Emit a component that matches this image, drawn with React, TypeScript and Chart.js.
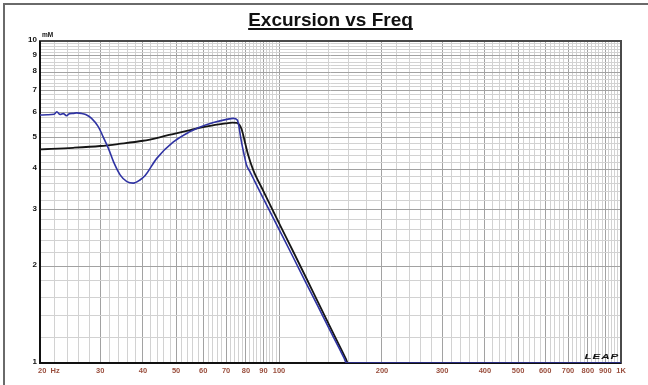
import React, { useEffect, useRef } from "react";
import { Chart, registerables } from "chart.js";

Chart.register(...registerables);

// Cone excursion (mM) against frequency (Hz)
const blueFreq = [20, 21, 22, 22.4, 22.9, 23.4, 23.9, 24.4, 25, 25.6, 26.4, 27.2, 28.3, 29.6, 30.6, 31.7, 32.8, 34.3, 35.9, 37.5, 39.2, 40.6, 43.9, 49, 54.9, 58.1, 64.3, 70.3, 73.5, 75.5, 76.3, 77, 77.8, 79, 80.4, 82.2, 85, 90, 100, 110, 120, 130, 140, 150, 155, 157.6, 1000];
const blueMm = [5.89, 5.9, 5.92, 6.03, 5.91, 5.95, 5.86, 5.95, 5.96, 5.98, 5.96, 5.91, 5.75, 5.42, 5.04, 4.64, 4.22, 3.84, 3.66, 3.62, 3.7, 3.82, 4.32, 4.85, 5.23, 5.38, 5.58, 5.71, 5.75, 5.68, 5.45, 5.12, 4.81, 4.45, 4.11, 3.93, 3.66, 3.24, 2.6, 2.13, 1.77, 1.5, 1.28, 1.11, 1.035, 1.0, 1.0];

const blackFreq = [20, 25, 30, 34, 40, 45, 50, 55, 60, 65, 70, 73, 75.3, 76.5, 77.7, 78.6, 79.6, 81.2, 84, 90, 100, 110, 120, 130, 140, 150, 157, 159, 1000];
const blackMm = [4.61, 4.66, 4.72, 4.79, 4.9, 5.03, 5.17, 5.29, 5.4, 5.49, 5.55, 5.58, 5.57, 5.5, 5.33, 5.1, 4.82, 4.43, 3.98, 3.42, 2.72, 2.22, 1.84, 1.545, 1.316, 1.134, 1.028, 1.0, 1.0];

const xTickValues = [20, 30, 40, 50, 60, 70, 80, 90, 100, 200, 300, 400, 500, 600, 700, 800, 900, 1000];
const xTickLabels = ["20  Hz", "30", "40", "50", "60", "70", "80", "90", "100", "200", "300", "400", "500", "600", "700", "800", "900", "1K"];
const yTickValues = [1, 2, 3, 4, 5, 6, 7, 8, 9, 10];
const yTickLabels = ["1", "2", "3", "4", "5", "6", "7", "8", "9", "10"];

const TITLE = "Excursion vs Freq";
const Y_UNIT = "mM";
const LOGO = "LEAP";

// grid lines: every 2 Hz below 100 Hz, every 20 Hz above; every 0.2 mM
function xGridValues(): number[] {
  const v: number[] = [];
  for (let f = 20; f < 100; f += 2) v.push(f);
  for (let f = 100; f <= 1000; f += 20) v.push(f);
  return v;
}
function yGridValues(): number[] {
  const v: number[] = [];
  for (let i = 10; i <= 100; i += 2) v.push(i / 10);
  return v;
}
const isMajorX = (f: number) => (f < 100 ? f % 10 === 0 : f % 100 === 0);
const isMajorY = (v: number) => Math.abs(v - Math.round(v)) < 1e-9;

const MAJOR_GRID = "#a2a2a2";
const MINOR_GRID = "#d2d2d2";

const decorations = {
  id: "decorations",
  beforeDraw(chart: any) {
    const { ctx, width, height } = chart;
    ctx.save();
    ctx.fillStyle = "#ffffff";
    ctx.fillRect(0, 0, width, height);
    ctx.fillStyle = "#6a6a6a";
    ctx.fillRect(3, 3, width - 3, 2);
    ctx.fillRect(3, 3, 2, height - 3);
    ctx.restore();
  },
  beforeDatasetsDraw(chart: any) {
    const { ctx, chartArea } = chart;
    const { left, top, right, bottom } = chartArea;
    ctx.save();
    ctx.strokeStyle = "#4a4a4a";
    ctx.lineWidth = 2;
    ctx.strokeRect(left, top, right - left, bottom - top);
    ctx.strokeStyle = "#111111";
    ctx.beginPath();
    ctx.moveTo(left, top);
    ctx.lineTo(left, bottom);
    ctx.lineTo(right, bottom);
    ctx.stroke();
    ctx.restore();
  },
  afterDraw(chart: any) {
    const { ctx, chartArea } = chart;
    const xs = chart.scales.x;
    const ys = chart.scales.y;
    ctx.save();

    // y tick labels
    ctx.fillStyle = "#111111";
    ctx.font = "bold 8px Arial";
    ctx.textAlign = "right";
    ctx.textBaseline = "middle";
    yTickValues.forEach((v, i) => {
      ctx.fillText(yTickLabels[i], chartArea.left - 3, ys.getPixelForValue(v) - 1);
    });
    ctx.font = "bold 6.5px Arial";
    ctx.textAlign = "left";
    ctx.textBaseline = "alphabetic";
    ctx.fillText(Y_UNIT, chartArea.left + 2, chartArea.top - 4);

    // x tick labels
    ctx.fillStyle = "#9a4f3e";
    ctx.font = "bold 7.5px Arial";
    ctx.textBaseline = "middle";
    xTickValues.forEach((f, i) => {
      const px = xs.getPixelForValue(f);
      if (i === 0) {
        ctx.textAlign = "left";
        ctx.fillText(xTickLabels[i], px - 2, chartArea.bottom + 7.5);
      } else {
        ctx.textAlign = "center";
        ctx.fillText(xTickLabels[i], px, chartArea.bottom + 7.5);
      }
    });

    // logo, stretched wide
    ctx.save();
    ctx.fillStyle = "#111111";
    ctx.font = "italic bold 8px Arial";
    ctx.textAlign = "right";
    ctx.textBaseline = "alphabetic";
    (ctx as any).letterSpacing = "0.6px";
    ctx.translate(chartArea.right - 2, chartArea.bottom - 4);
    ctx.scale(1.45, 1);
    ctx.fillText(LOGO, 0, 0);
    ctx.restore();

    // title, underlined
    ctx.fillStyle = "#111111";
    ctx.font = "bold 19px Arial";
    ctx.textAlign = "center";
    ctx.textBaseline = "alphabetic";
    const cx = (chartArea.left + chartArea.right) / 2;
    ctx.fillText(TITLE, cx, 26);
    const w = ctx.measureText(TITLE).width;
    ctx.fillRect(cx - w / 2, 28, w, 2);

    ctx.restore();
  },
};

export default function App() {
  const canvasRef = useRef<HTMLCanvasElement | null>(null);

  useEffect(() => {
    const canvas = canvasRef.current;
    if (!canvas) return;
    const chart = new Chart(canvas, {
      type: "line",
      data: {
        datasets: [
          {
            label: "Excursion (blue)",
            data: blueFreq.map((f, i) => ({ x: f, y: blueMm[i] })),
            borderColor: "#2f33a3",
            borderWidth: 1.6,
            pointRadius: 0,
            cubicInterpolationMode: "monotone",
            fill: false,
          },
          {
            label: "Excursion (black)",
            data: blackFreq.map((f, i) => ({ x: f, y: blackMm[i] })),
            borderColor: "#151515",
            borderWidth: 1.8,
            pointRadius: 0,
            cubicInterpolationMode: "monotone",
            fill: false,
          },
        ],
      },
      options: {
        responsive: false,
        animation: false,
        events: [],
        layout: { padding: { left: 40, top: 41, right: 27, bottom: 22 } },
        plugins: {
          legend: { display: false },
          tooltip: { enabled: false },
          title: { display: false },
        },
        scales: {
          x: {
            type: "logarithmic",
            min: 20,
            max: 1000,
            afterBuildTicks: (scale: any) => {
              scale.ticks = xGridValues().map((value) => ({ value }));
            },
            ticks: { display: false, autoSkip: false },
            border: { display: false },
            grid: {
              drawTicks: false,
              lineWidth: 1,
              color: (c: any) => (c.tick && isMajorX(c.tick.value) ? MAJOR_GRID : MINOR_GRID),
            },
          },
          y: {
            type: "logarithmic",
            min: 1,
            max: 10,
            afterBuildTicks: (scale: any) => {
              scale.ticks = yGridValues().map((value) => ({ value }));
            },
            ticks: { display: false, autoSkip: false },
            border: { display: false },
            grid: {
              drawTicks: false,
              lineWidth: 1,
              color: (c: any) => (c.tick && isMajorY(c.tick.value) ? MAJOR_GRID : MINOR_GRID),
            },
          },
        },
      },
      plugins: [decorations],
    });
    return () => chart.destroy();
  }, []);

  return (
    <div style={{ position: "fixed", left: 0, top: 0, width: 648, height: 385 }}>
      <canvas ref={canvasRef} width={648} height={385} style={{ display: "block" }} />
    </div>
  );
}
